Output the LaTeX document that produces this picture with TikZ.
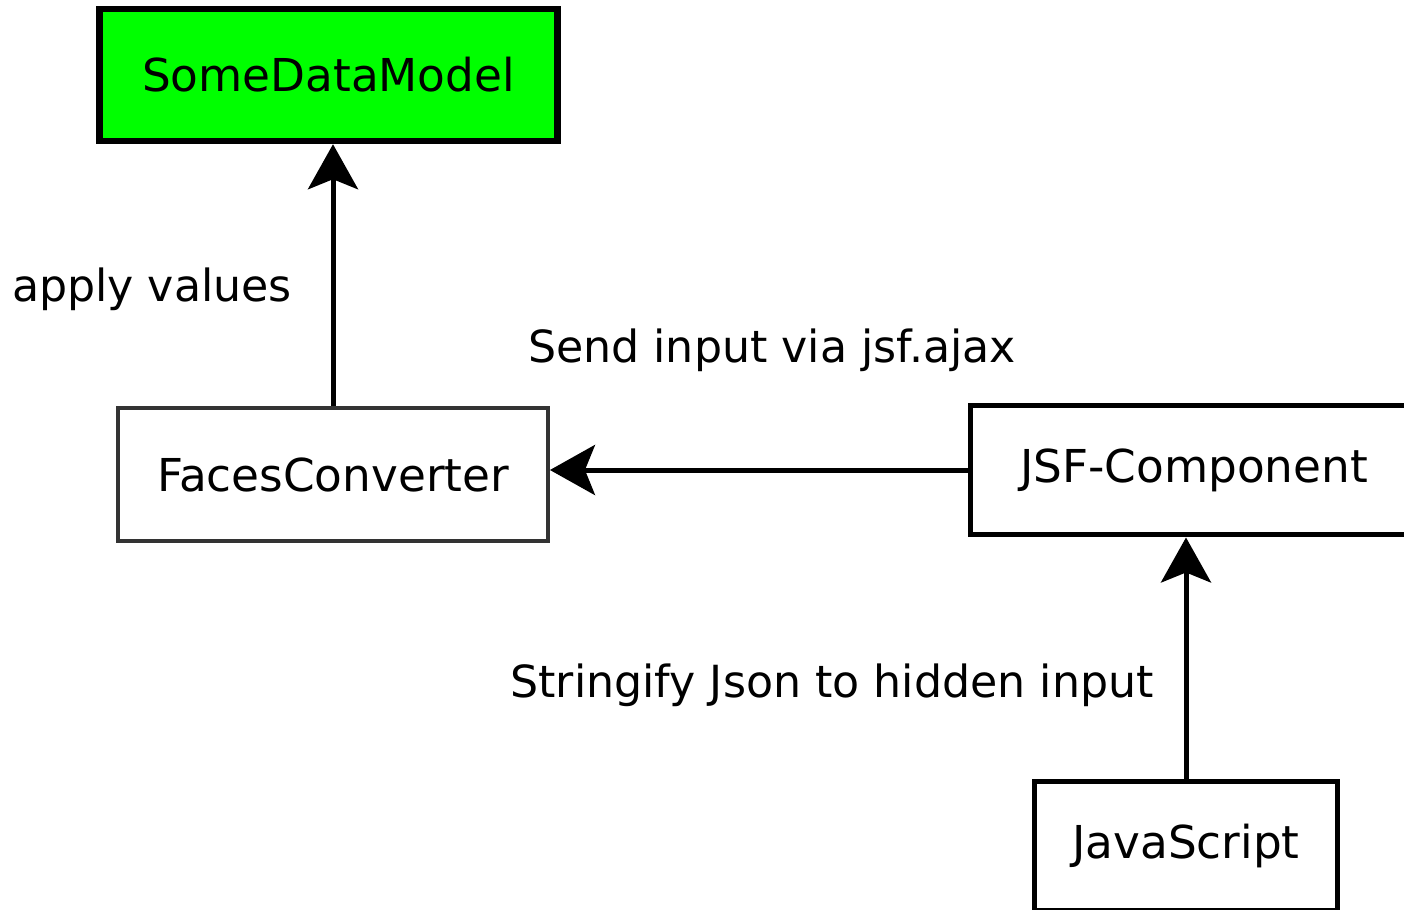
\documentclass[tikz,border=0pt]{standalone}
\usepackage{fontspec}
\setmainfont{DejaVu Sans}
\usetikzlibrary{arrows.meta}
\begin{document}
\begin{tikzpicture}[x=0.02cm,y=-0.02cm,
  box/.style={draw=black, line width=0.1cm, inner sep=0pt, font=\fontsize{25.8}{30}\selectfont},
  lbl/.style={inner sep=0pt, font=\fontsize{25.2}{30}\selectfont},
  flow/.style={line width=0.1cm, -{Stealth[length=0.9cm, width=1.0cm, inset=0.2cm]}}]
\useasboundingbox (0,0) rectangle (1404,910);
% boxes
\node[box, fill={rgb,255:red,0;green,255;blue,0}, line width=0.13cm,
      minimum width=9.16cm, minimum height=2.64cm] (sdm) at (328.5,75) {SomeDataModel};
\node[box, draw=black!80, line width=0.08cm,
      minimum width=8.6cm, minimum height=2.66cm] (fc) at (333,474.5) {FacesConverter};
\node[box, minimum width=8.94cm, minimum height=2.6cm] (jsf) at (1194,470) {JSF-Component};
\node[box, minimum width=6.06cm, minimum height=2.6cm] (js) at (1186,846) {JavaScript};
% connectors
\draw[flow] (fc.north) -- (fc.north |- sdm.south);
\draw[flow] (jsf.west) -- (jsf.west -| fc.east);
\draw[flow] (js.north) -- (js.north |- jsf.south);
% labels
\node[lbl] (l1) at (152,289) {apply values};
\node[lbl] (l2) at (772,350) {Send input via jsf.ajax};
\node[lbl] (l3) at (832,685) {Stringify Json to hidden input};
\end{tikzpicture}
\end{document}
